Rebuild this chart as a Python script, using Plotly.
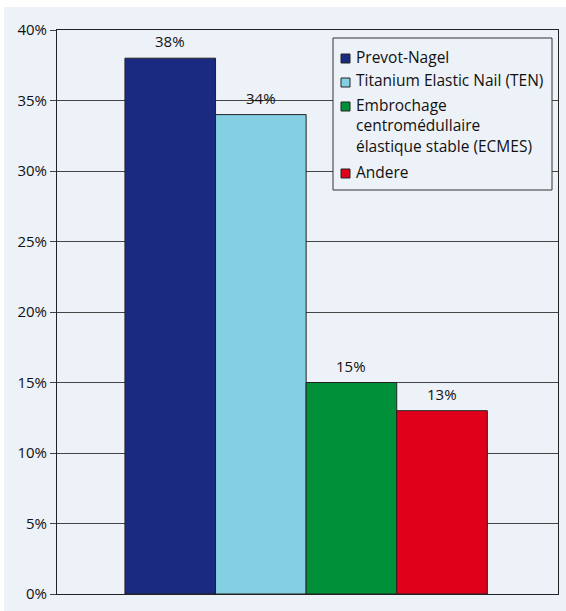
import plotly.graph_objects as go

# Share of each fixation technique (percent)
methods = [
    "Prevot-Nagel",
    "Titanium Elastic Nail (TEN)",
    "Embrochage<br>centromédullaire<br>élastique stable (ECMES)",
    "Andere",
]
shares = [38, 34, 15, 13]
colors = ["#1a2a80", "#84d0e2", "#00903a", "#e10019"]
y_ticks = [0, 5, 10, 15, 20, 25, 30, 35, 40]
y_tick_labels = [f"{v}%" for v in y_ticks]

FONT = "Open Sans"
INK = "#111111"
PANEL = "#edf1f8"
FS_LEGEND = 15.5
FS_AXIS = 15

W, H = 566, 611
L, R, T, B = 57, 8, 30, 17
PW, PH = W - L - R, H - T - B


def px_x(x):
    return (x - L) / PW


def px_y(y):
    return (H - B - y) / PH


fig = go.Figure()

for i, (name, val, col) in enumerate(zip(methods, shares, colors)):
    fig.add_trace(
        go.Bar(
            x=[i],
            y=[val],
            width=1,
            name=name,
            marker=dict(color=col, line=dict(color="#222222", width=1)),
            showlegend=False,
        )
    )
    fig.add_annotation(
        x=i, y=val, xref="x", yref="y", text=f"{val}%",
        showarrow=False, yanchor="bottom", yshift=5,
        font=dict(family=FONT, size=FS_AXIS, color=INK),
    )

shapes = [
    # light panel behind the whole chart
    dict(type="rect", xref="paper", yref="paper", layer="below",
         x0=px_x(4), x1=px_x(W + 2), y0=px_y(H + 2), y1=px_y(7),
         fillcolor=PANEL, line=dict(width=0)),
    # legend frame
    dict(type="rect", xref="paper", yref="paper", layer="above",
         x0=px_x(333), x1=px_x(552), y0=px_y(190), y1=px_y(38),
         fillcolor=PANEL, line=dict(color="#333333", width=1)),
]

# legend: swatch bottom edge (px) and the vertical centre of each text line
swatch_bottoms = [63, 87, 111, 178]
line_centres = [[56.5], [80.5], [104.5, 125, 145.5], [172]]
for name, col, sb, centres in zip(methods, colors, swatch_bottoms, line_centres):
    shapes.append(
        dict(type="rect", xref="paper", yref="paper", layer="above",
             x0=px_x(341), x1=px_x(350), y0=px_y(sb), y1=px_y(sb - 9),
             fillcolor=col, line=dict(color="#222222", width=1))
    )
    for line, cy in zip(name.split("<br>"), centres):
        fig.add_annotation(
            x=px_x(354), y=px_y(cy), xref="paper", yref="paper",
            text=line, showarrow=False, xanchor="left", yanchor="middle",
            align="left", font=dict(family=FONT, size=FS_LEGEND, color=INK),
        )

fig.update_layout(
    width=W, height=H,
    margin=dict(l=L, r=R, t=T, b=B, pad=0),
    paper_bgcolor="white",
    plot_bgcolor="rgba(0,0,0,0)",
    barmode="overlay",
    shapes=shapes,
    font=dict(family=FONT, size=FS_AXIS, color=INK),
    xaxis=dict(
        range=[-1.25, 4.28], showticklabels=False, showgrid=False,
        zeroline=False, showline=True, linecolor="#222222", linewidth=1,
        mirror=True, ticks="", fixedrange=True,
    ),
    yaxis=dict(
        range=[0, 40], tickvals=y_ticks, ticktext=y_tick_labels,
        showgrid=True, gridcolor="#444444", gridwidth=1,
        zeroline=False, showline=True, linecolor="#222222", linewidth=1,
        mirror=True, ticks="outside", ticklen=6, tickcolor="#444444",
        tickfont=dict(family=FONT, size=FS_AXIS, color=INK), fixedrange=True,
    ),
)

fig.write_html("out.html")
